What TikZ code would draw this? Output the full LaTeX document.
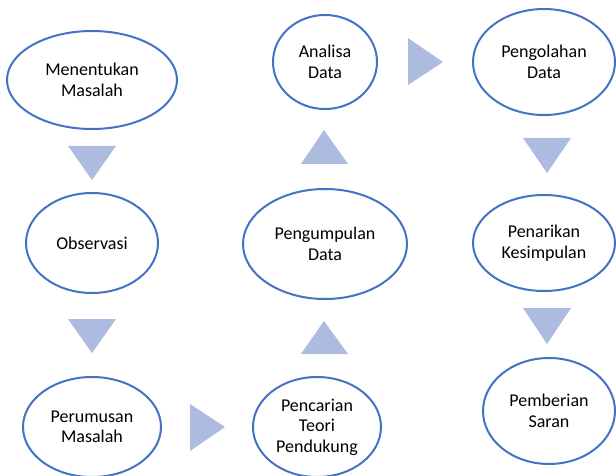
\documentclass[tikz,border=0pt]{standalone}
\usepackage{fontspec}
\setmainfont{Carlito}
\usepackage{tikz}
\usetikzlibrary{shapes}
\definecolor{lineblue}{HTML}{4472C4}
\definecolor{triblue}{RGB}{173,187,224}

\begin{document}
\begin{tikzpicture}[x=1pt,y=-1pt,
		stage/.style={draw=lineblue,
			line width=2pt,
			ellipse,
			fill=white,
			inner sep=0pt,
			align=center,
			font=\fontsize{18}{20.5}\selectfont},
		tri/.style={fill=triblue}]
		\useasboundingbox (0,0) rectangle (616,476);

		% first column
		\node[stage,
			minimum width=170pt,
			minimum height=98pt
		] (masalah) at (92,80) {Menentukan\\Masalah};

		\node[stage,
			minimum width=132pt,
			minimum height=100pt
		] (observasi) at (92,243) {Observasi};

		\node[stage,
			minimum width=138pt,
			minimum height=100pt
		] (perumusan) at (92,427) {Perumusan\\Masalah};

		% second column
		\node[stage,
			minimum width=128pt,
			minimum height=100pt
		] (teori) at (317,427) {Pencarian\\Teori\\Pendukung};

		\node[stage,
			minimum width=164pt,
			minimum height=110pt
		] (pengumpulan) at (325,244) {Pengumpulan\\Data};

		\node[stage,
			minimum width=104pt,
			minimum height=94pt
		] (analisa) at (325,62) {Analisa\\Data};

		% third column
		\node[stage,
			minimum width=142pt,
			minimum height=106pt
		] (pengolahan) at (544,62) {Pengolahan\\Data};

		\node[stage,
			minimum width=142pt,
			minimum height=96pt
		] (kesimpulan) at (544,243) {Penarikan\\Kesimpulan};

		\node[stage,
			minimum width=132pt,
			minimum height=106pt
		] (saran) at (549,411) {Pemberian\\Saran};

		% triangles between the stages
		\fill[tri] (68,146) -- (116,146) -- (92,180) -- cycle;
		\fill[tri] (68,319) -- (116,319) -- (92,353) -- cycle;
		\fill[tri] (190,404) -- (190,451) -- (225,427) -- cycle;
		\fill[tri] (301,354) -- (348,354) -- (324,321) -- cycle;
		\fill[tri] (301,164) -- (348,164) -- (324,130) -- cycle;
		\fill[tri] (408,38) -- (408,85) -- (443,62) -- cycle;
		\fill[tri] (523,138) -- (571,138) -- (547,173) -- cycle;
		\fill[tri] (523,308) -- (571,308) -- (547,344) -- cycle;

	\end{tikzpicture}
\end{document}
